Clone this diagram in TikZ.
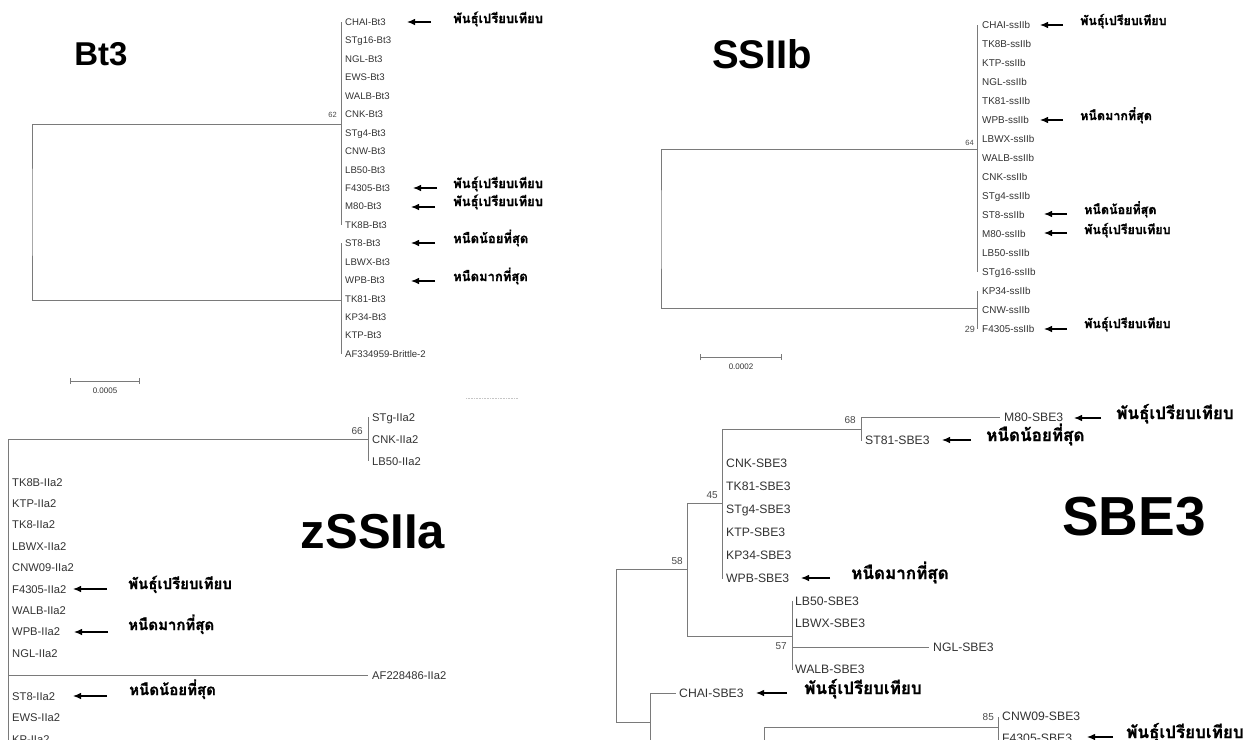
\documentclass[tikz,border=0pt]{standalone}
\usepackage{fontspec}
\usetikzlibrary{arrows.meta}
\setmainfont{Liberation Sans}
\newfontfamily\thaif[Script=Thai, BoldFeatures={FakeBold=1.2}]{Loma}
\definecolor{brc}{HTML}{7A7A7A}
\definecolor{labc}{HTML}{333333}
\definecolor{bsc}{HTML}{4A4A4A}
\newcommand{\fsz}[1]{\fontsize{#1}{#1}\selectfont}
\newcommand{\tcmp}{พันธุ์เปรียบเทียบ}
\newcommand{\tmax}{หนืดมากที่สุด}
\newcommand{\tmin}{หนืดน้อยที่สุด}
\begin{document}
\begin{tikzpicture}[x=1pt,y=-1pt,
  br/.style={draw=brc, line width=0.9pt},
  leaf/.style={anchor=base west, inner sep=0pt, text=labc},
  bs/.style={anchor=east, inner sep=0pt, text=bsc},
  arr/.style={draw=black, line width=1.1pt, -{Latex[length=8pt,width=6.5pt]}},
  thl/.style={anchor=base west, inner sep=0pt, text=black},
  ttl/.style={inner sep=0pt, text=black},
  scb/.style={draw=brc, line width=0.9pt, {Bar[width=6pt]}-{Bar[width=6pt]}}
]
\useasboundingbox (0,0) rectangle (1244,739);
\clip (0,0) rectangle (1244,739);
\fill[white] (0,0) rectangle (1244,739);

% ================= Bt3 =================
\node[ttl, font=\bfseries\fsz{33}] (bt3title) at (101,54) {Bt3};
\foreach \n [count=\i from 0] in {CHAI,STg16,NGL,EWS,WALB,CNK,STg4,CNW,LB50,F4305,M80,TK8B,ST8,LBWX,WPB,TK81,KP34,KTP}{
  \coordinate (bt\i) at (341,{22+18.44*\i});
  \node[leaf, font=\fsz{9.6}] (btl\i) at (345,{25.5+18.44*\i}) {\n-Bt3};
}
\coordinate (bt18) at (341,354);
\node[leaf, font=\fsz{9.6}] (btl18) at (345,357.5) {AF334959-Brittle-2};
\coordinate (btA) at (341,124);
\coordinate (btB) at (341,300);
\coordinate (btR) at (32,212);
\draw[br] (bt0) -- (bt11);
\draw[br] (bt12) -- (bt18);
\draw[br] (btA) -| (btR) |- (btB);
\node[bs, font=\fsz{7.5}] (btbs) at (337,115) {62};
\coordinate (btsc1) at (70,381);
\coordinate (btsc2) at (140,381);
\draw[scb] (btsc1) -- (btsc2);
\node[font=\fsz{8}, text=labc, inner sep=0pt] (btscl) at (105,391) {0.0005};
% arrows + thai
\coordinate (bta1t) at (431,22);  \coordinate (bta1h) at (407,22);
\coordinate (bta2t) at (437,188); \coordinate (bta2h) at (413,188);
\coordinate (bta3t) at (435,207); \coordinate (bta3h) at (411,207);
\coordinate (bta4t) at (435,243); \coordinate (bta4h) at (411,243);
\coordinate (bta5t) at (435,281); \coordinate (bta5h) at (411,281);
\foreach \k in {1,...,5}{\draw[arr] (bta\k t) -- (bta\k h);}
\node[thl, font=\thaif\bfseries\fsz{13}] (btt1) at (453,23) {\tcmp};
\node[thl, font=\thaif\bfseries\fsz{13}] (btt2) at (453,188) {\tcmp};
\node[thl, font=\thaif\bfseries\fsz{13}] (btt3) at (453,206) {\tcmp};
\node[thl, font=\thaif\bfseries\fsz{13}] (btt4) at (453,243) {\tmin};
\node[thl, font=\thaif\bfseries\fsz{13}] (btt5) at (453,281) {\tmax};

% ================= SSIIb =================
\node[ttl, font=\bfseries\fsz{40}] (ssbtitle) at (762,54) {SSIIb};
\foreach \n [count=\i from 0] in {CHAI,TK8B,KTP,NGL,TK81,WPB,LBWX,WALB,CNK,STg4,ST8,M80,LB50,STg16,KP34,CNW,F4305}{
  \coordinate (sb\i) at (977,{25+19*\i});
  \node[leaf, font=\fsz{9.9}] (sbl\i) at (982,{28.6+19*\i}) {\n-ssIIb};
}
\coordinate (sbA) at (977,149);
\coordinate (sbB) at (977,308);
\coordinate (sbR) at (661,230);
\draw[br] (sb0) -- (sb13);
\draw[br] (sb14) -- (sb16);
\draw[br] (sbA) -| (sbR) |- (sbB);
\node[bs, font=\fsz{7.5}] (sbbs1) at (974,143) {64};
\node[bs, font=\fsz{9}] (sbbs2) at (975,329) {29};
\coordinate (sbsc1) at (700,357);
\coordinate (sbsc2) at (782,357);
\draw[scb] (sbsc1) -- (sbsc2);
\node[font=\fsz{8}, text=labc, inner sep=0pt] (sbscl) at (741,367) {0.0002};
\coordinate (sba1t) at (1063,25);  \coordinate (sba1h) at (1040,25);
\coordinate (sba2t) at (1063,120); \coordinate (sba2h) at (1040,120);
\coordinate (sba3t) at (1067,214); \coordinate (sba3h) at (1044,214);
\coordinate (sba4t) at (1067,233); \coordinate (sba4h) at (1044,233);
\coordinate (sba5t) at (1067,329); \coordinate (sba5h) at (1044,329);
\foreach \k in {1,...,5}{\draw[arr] (sba\k t) -- (sba\k h);}
\node[thl, font=\thaif\bfseries\fsz{12.5}] (sbt1) at (1080,25) {\tcmp};
\node[thl, font=\thaif\bfseries\fsz{12.5}] (sbt2) at (1080,120) {\tmax};
\node[thl, font=\thaif\bfseries\fsz{12.5}] (sbt3) at (1084,214) {\tmin};
\node[thl, font=\thaif\bfseries\fsz{12.5}] (sbt4) at (1084,234) {\tcmp};
\node[thl, font=\thaif\bfseries\fsz{12.5}] (sbt5) at (1084,328) {\tcmp};

% ================= zSSIIa =================
\coordinate (zd1) at (466,398);
\coordinate (zd2) at (518,398);
\draw[densely dotted, gray!45, line width=0.6pt] (zd1) -- (zd2);
\node[ttl, font=\bfseries\fsz{49}] (zatitle) at (373,532) {zSSIIa};
\foreach \n [count=\i from 0] in {STg,CNK,LB50}{
  \coordinate (zt\i) at (368,{417+22*\i});
  \node[leaf,font=\fsz{11.2}] (ztl\i) at (372,{421.1+22*\i}) {\n-IIa2};
}
\coordinate (ztA) at (368,439);
\coordinate (zR) at (8,750);
\draw[br] (zt0) -- (zt2);
\draw[br] (ztA) -| (zR);
\node[bs,font=\fsz{10}] (zbs) at (363,431) {66};
\foreach \n [count=\i from 0] in {TK8B,KTP,TK8,LBWX,CNW09,F4305,WALB,WPB,NGL}{
  \node[leaf,font=\fsz{11.2}] (zl\i) at (12,{486.1+21.4*\i}) {\n-IIa2};
}
\foreach \n [count=\i from 0] in {ST8,EWS,KP}{
  \node[leaf,font=\fsz{11.2}] (zm\i) at (12,{700.1+21.6*\i}) {\n-IIa2};
}
\coordinate (zAFr) at (8,675);
\coordinate (zAF) at (368,675);
\draw[br] (zAFr) -- (zAF);
\node[leaf,font=\fsz{11.2}] (zAFl) at (372,679.1) {AF228486-IIa2};
\coordinate (za1t) at (107,589); \coordinate (za1h) at (73,589);
\coordinate (za2t) at (108,632); \coordinate (za2h) at (74,632);
\coordinate (za3t) at (107,696); \coordinate (za3h) at (73,696);
\foreach \k in {1,2,3}{\draw[arr] (za\k t) -- (za\k h);}
\node[thl, font=\thaif\bfseries\fsz{15}] (zat1) at (128,589) {\tcmp};
\node[thl, font=\thaif\bfseries\fsz{15}] (zat2) at (128,630) {\tmax};
\node[thl, font=\thaif\bfseries\fsz{15}] (zat3) at (129,695) {\tmin};

% ================= SBE3 =================
\node[ttl, font=\bfseries\fsz{55}] (sbetitle) at (1134,517) {SBE3};
% internal nodes
\coordinate (sRt) at (616,569);
\coordinate (sRb) at (616,722);
\coordinate (s58i) at (687,569);
\coordinate (s58t) at (687,503);
\coordinate (s58b) at (687,636);
\coordinate (s45i) at (722,503);
\coordinate (s45t) at (722,429);
\coordinate (s45b) at (722,579);
\coordinate (s68i) at (861,429);
\coordinate (s68t) at (861,417);
\coordinate (s68b) at (861,441);
\coordinate (s57i) at (792,636);
\coordinate (s57t) at (792,601);
\coordinate (s57b) at (792,670);
\coordinate (sLi) at (650,722);
\coordinate (sLt) at (650,693);
\coordinate (sLb) at (650,750);
\coordinate (sMt) at (764,727);
\coordinate (sMb) at (764,750);
\coordinate (s85i) at (998,727);
\coordinate (s85t) at (998,717);
\coordinate (s85b) at (998,750);
% leaves
\coordinate (sM80) at (1000,417);
\coordinate (sNGLr) at (792,647);
\coordinate (sNGL) at (929,647);
\coordinate (sCHAI) at (676,693);
% branches
\draw[br] (sRt) -- (sRb);
\draw[br] (sRt) -- (s58i);
\draw[br] (s58t) -- (s58b);
\draw[br] (s58t) -- (s45i);
\draw[br] (s45t) -- (s45b);
\draw[br] (s45t) -- (s68i);
\draw[br] (s68t) -- (s68b);
\draw[br] (s68t) -- (sM80);
\draw[br] (s58b) -- (s57i);
\draw[br] (s57t) -- (s57b);
\draw[br] (sNGLr) -- (sNGL);
\draw[br] (sRb) -- (sLi);
\draw[br] (sLt) -- (sLb);
\draw[br] (sLt) -- (sCHAI);
\draw[br] (sMt) -- (sMb);
\draw[br] (sMt) -- (s85i);
\draw[br] (s85t) -- (s85b);
% labels
\node[leaf,font=\fsz{12.2}] (sl1) at (1004,421.4) {M80-SBE3};
\node[leaf,font=\fsz{12.2}] (sl2) at (865,444.4) {ST81-SBE3};
\foreach \n [count=\i from 0] in {CNK,TK81,STg4,KTP,KP34,WPB}{
  \node[leaf,font=\fsz{12.2}] (sc\i) at (726,{467.4+23*\i}) {\n-SBE3};
}
\node[leaf,font=\fsz{12.2}] (sl3) at (795,605.4) {LB50-SBE3};
\node[leaf,font=\fsz{12.2}] (sl4) at (795,627.4) {LBWX-SBE3};
\node[leaf,font=\fsz{12.2}] (sl5) at (933,651.4) {NGL-SBE3};
\node[leaf,font=\fsz{12.2}] (sl6) at (795,673.4) {WALB-SBE3};
\node[leaf,font=\fsz{12.2}] (sl7) at (679,697.4) {CHAI-SBE3};
\node[leaf,font=\fsz{12.2}] (sl8) at (1002,720.4) {CNW09-SBE3};
\node[leaf,font=\fsz{12.2}] (sl9) at (1002,742.4) {F4305-SBE3};
% bootstrap
\node[bs,font=\fsz{10}] (sbs1) at (856,420) {68};
\node[bs,font=\fsz{10}] (sbs2) at (718,495) {45};
\node[bs,font=\fsz{10}] (sbs3) at (683,561) {58};
\node[bs,font=\fsz{10}] (sbs4) at (787,646) {57};
\node[bs,font=\fsz{10}] (sbs5) at (994,717) {85};
% arrows
\coordinate (sea1t) at (1101,418); \coordinate (sea1h) at (1074,418);
\coordinate (sea2t) at (971,440);  \coordinate (sea2h) at (942,440);
\coordinate (sea3t) at (830,578);  \coordinate (sea3h) at (801,578);
\coordinate (sea4t) at (787,693);  \coordinate (sea4h) at (756,693);
\coordinate (sea5t) at (1113,737); \coordinate (sea5h) at (1087,737);
\foreach \k in {1,...,5}{\draw[arr] (sea\k t) -- (sea\k h);}
\node[thl, font=\thaif\bfseries\fsz{17}] (set1) at (1116,419) {\tcmp};
\node[thl, font=\thaif\bfseries\fsz{17}] (set2) at (986,441) {\tmin};
\node[thl, font=\thaif\bfseries\fsz{17}] (set3) at (851,579) {\tmax};
\node[thl, font=\thaif\bfseries\fsz{17}] (set4) at (804,694) {\tcmp};
\node[thl, font=\thaif\bfseries\fsz{17}] (set5) at (1126,738) {\tcmp};
\end{tikzpicture}
\end{document}
